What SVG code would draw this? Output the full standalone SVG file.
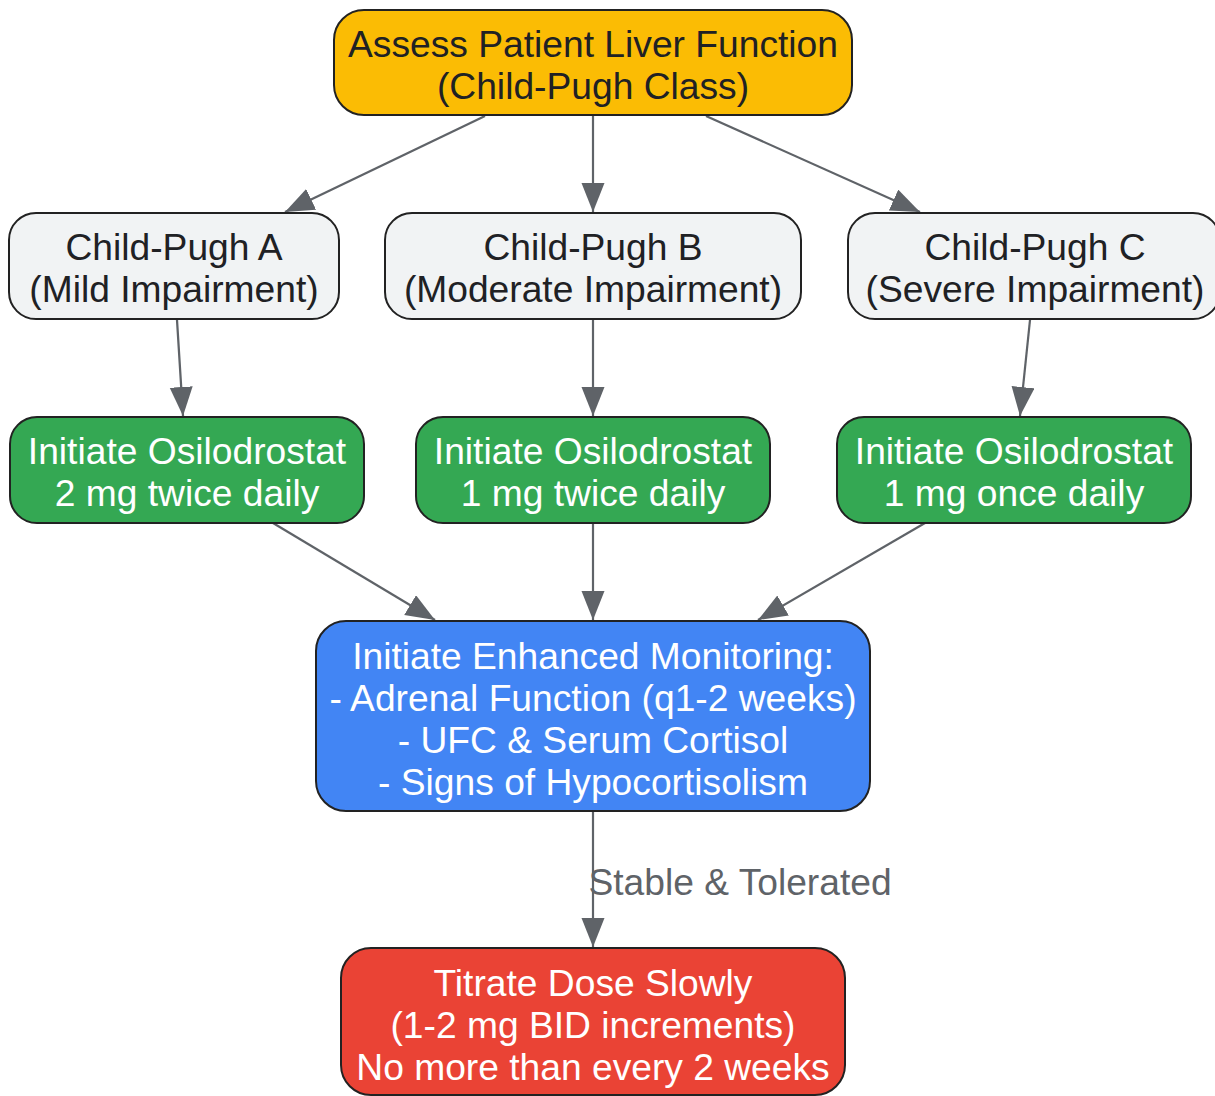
<svg xmlns="http://www.w3.org/2000/svg" width="1215" height="1096" viewBox="0 0 1215 1096">
<style>
.n rect{stroke:#222222;stroke-width:2}
text{font-family:"Liberation Sans",Arial,sans-serif;font-size:37.2px;text-anchor:middle;dominant-baseline:central}
.dk{fill:#202124}
.wt{fill:#ffffff}
.e line{stroke:#5f6368;stroke-width:2.2;fill:none}
.lbl{fill:#5f6368}
</style>
<defs>
<marker id="ah" markerUnits="userSpaceOnUse" markerWidth="30" markerHeight="24" refX="29" refY="11.5" orient="auto">
<path d="M0,0 L29,11.5 L0,23 Z" fill="#5f6368"/>
</marker>
</defs>
<rect width="1215" height="1096" fill="#ffffff"/>
<g id="edges" class="e">
<line x1="485" y1="116" x2="285" y2="212" marker-end="url(#ah)"/>
<line x1="593" y1="116" x2="593" y2="212" marker-end="url(#ah)"/>
<line x1="706" y1="116" x2="920" y2="212" marker-end="url(#ah)"/>
<line x1="177" y1="320" x2="183" y2="416" marker-end="url(#ah)"/>
<line x1="593" y1="320" x2="593" y2="416" marker-end="url(#ah)"/>
<line x1="1030" y1="320" x2="1020" y2="416" marker-end="url(#ah)"/>
<line x1="273" y1="523" x2="435" y2="620" marker-end="url(#ah)"/>
<line x1="593" y1="523" x2="593" y2="620" marker-end="url(#ah)"/>
<line x1="925" y1="523" x2="758" y2="620" marker-end="url(#ah)"/>
<line x1="593" y1="811" x2="593" y2="947" marker-end="url(#ah)"/>
<text class="lbl" x="740" y="882">Stable &amp; Tolerated</text>
</g>
<g id="assess" class="n">
<rect x="334" y="10" width="518" height="105" rx="30" fill="#FBBC04"/>
<text class="dk" x="593" y="44">Assess Patient Liver Function</text>
<text class="dk" x="593" y="86">(Child-Pugh Class)</text>
</g>
<g id="cpA" class="n">
<rect x="9" y="213" width="330" height="106" rx="27" fill="#F1F3F4"/>
<text class="dk" x="174" y="247">Child-Pugh A</text>
<text class="dk" x="174" y="289">(Mild Impairment)</text>
</g>
<g id="cpB" class="n">
<rect x="385" y="213" width="416" height="106" rx="27" fill="#F1F3F4"/>
<text class="dk" x="593" y="247">Child-Pugh B</text>
<text class="dk" x="593" y="289">(Moderate Impairment)</text>
</g>
<g id="cpC" class="n">
<rect x="848" y="213" width="372" height="106" rx="27" fill="#F1F3F4"/>
<text class="dk" x="1035" y="247">Child-Pugh C</text>
<text class="dk" x="1035" y="289">(Severe Impairment)</text>
</g>
<g id="doseA" class="n">
<rect x="10" y="417" width="354" height="106" rx="27" fill="#34A853"/>
<text class="wt" x="187" y="451">Initiate Osilodrostat</text>
<text class="wt" x="187" y="493">2 mg twice daily</text>
</g>
<g id="doseB" class="n">
<rect x="416" y="417" width="354" height="106" rx="27" fill="#34A853"/>
<text class="wt" x="593" y="451">Initiate Osilodrostat</text>
<text class="wt" x="593" y="493">1 mg twice daily</text>
</g>
<g id="doseC" class="n">
<rect x="837" y="417" width="354" height="106" rx="27" fill="#34A853"/>
<text class="wt" x="1014" y="451">Initiate Osilodrostat</text>
<text class="wt" x="1014" y="493">1 mg once daily</text>
</g>
<g id="monitor" class="n">
<rect x="316" y="621" width="554" height="190" rx="30" fill="#4285F4"/>
<text class="wt" x="593" y="656">Initiate Enhanced Monitoring:</text>
<text class="wt" x="593" y="698">- Adrenal Function (q1-2 weeks)</text>
<text class="wt" x="593" y="740">- UFC &amp; Serum Cortisol</text>
<text class="wt" x="593" y="782">- Signs of Hypocortisolism</text>
</g>
<g id="titrate" class="n">
<rect x="341" y="948" width="504" height="147" rx="30" fill="#EA4335"/>
<text class="wt" x="593" y="983">Titrate Dose Slowly</text>
<text class="wt" x="593" y="1025">(1-2 mg BID increments)</text>
<text class="wt" x="593" y="1067">No more than every 2 weeks</text>
</g>
</svg>
